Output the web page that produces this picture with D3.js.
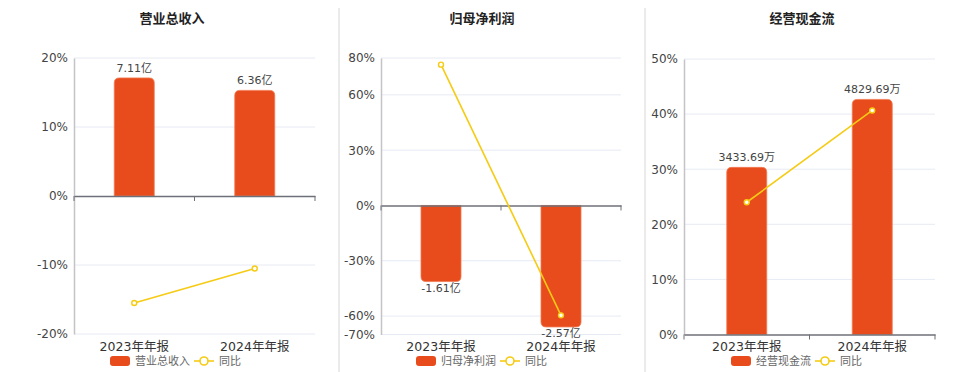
<!DOCTYPE html>
<html>
<head>
<meta charset="utf-8">
<script src="https://cdn.jsdelivr.net/npm/d3@7/dist/d3.min.js"></script>
<style>
  body { margin: 0; background: #fff; }
  svg { display: block; font-family: "DejaVu Sans", "Noto Sans CJK SC", sans-serif; }
</style>
</head>
<body>
<script>
/* Data */
var periods = ["2023年年报", "2024年年报"];

var revenue = [7.11, 6.36];          // 亿
var revenueYoy = [-15.5, -10.5];     // %
var revenueTicks = [20, 10, 0, -10, -20];

var profit = [-1.61, -2.57];         // 亿
var profitYoy = [76.4, -59.6];       // %
var profitTicks = [80, 60, 30, 0, -30, -60, -70];

var cashflow = [3433.69, 4829.69];   // 万
var cashflowYoy = [24.0, 40.66];     // %
var cashflowTicks = [50, 40, 30, 20, 10, 0];

var BAR = "#e84c1c", LINE = "#f5cb14";

var svg = d3.select("body").append("svg")
    .attr("width", 960)
    .attr("height", 372);

/* panel separators */
[339, 645].forEach(function(x) {
  svg.append("line").attr("x1", x).attr("x2", x).attr("y1", 8).attr("y2", 372)
      .attr("stroke", "#d6d6d6").attr("stroke-width", 1);
});

drawPanel({
  title: "营业总收入", titleX: 172, left: 74, right: 315, top: 58, bottom: 334,
  pctDomain: [-20, 20], ticks: revenueTicks,
  barDomain: [-8.31, 8.31], bars: revenue, yoy: revenueYoy, unit: "亿",
  legend: 110
});

drawPanel({
  title: "归母净利润", titleX: 482, left: 381, right: 621, top: 58, bottom: 334.5,
  pctDomain: [-70, 80], ticks: profitTicks,
  barDomain: [-2.73, 3.12], bars: profit, yoy: profitYoy, unit: "亿",
  legend: 416
});

drawPanel({
  title: "经营现金流", titleX: 802, left: 684, right: 935, top: 59, bottom: 334.5,
  pctDomain: [0, 50], ticks: cashflowTicks,
  barDomain: [0, 5660], bars: cashflow, yoy: cashflowYoy, unit: "万",
  legend: 731
});

function drawPanel(p) {
  var g = svg.append("g");

  g.append("text")
      .attr("x", p.titleX).attr("y", 23)
      .attr("text-anchor", "middle")
      .attr("font-size", 13).attr("font-weight", "bold")
      .attr("fill", "#222")
      .text(p.title);

  var x = d3.scaleBand().domain(periods).range([p.left, p.right]);
  var y = d3.scaleLinear().domain(p.pctDomain).range([p.bottom, p.top]);
  var yb = d3.scaleLinear().domain(p.barDomain).range([p.bottom, p.top]);
  var zero = y(0);

  // grid
  g.selectAll(".grid").data(p.ticks.filter(function(t) { return t !== 0; }))
    .enter().append("line")
      .attr("x1", p.left).attr("x2", p.right)
      .attr("y1", function(d) { return y(d); })
      .attr("y2", function(d) { return y(d); })
      .attr("stroke", "#e6eaf3").attr("stroke-width", 1);

  // y axis
  var ya = g.append("g")
      .attr("transform", "translate(" + p.left + ",0)")
      .call(d3.axisLeft(y).tickValues(p.ticks).tickSize(0).tickPadding(6)
        .tickFormat(function(d) { return d + "%"; }));
  ya.select(".domain").attr("stroke", "#c4c4c8").attr("stroke-width", 1.5);
  ya.selectAll("text").attr("font-size", 12).attr("fill", "#444")
      .attr("font-family", "DejaVu Sans");

  // bars
  var bw = 40, r = 5;
  g.selectAll(".bar").data(p.bars)
    .enter().append("path")
      .attr("fill", BAR)
      .attr("stroke", "#f27a52").attr("stroke-width", 0.8)
      .attr("d", function(d, i) {
        var x0 = x(periods[i]) + x.bandwidth() / 2 - bw / 2;
        var yv = yb(d);
        if (d >= 0) {
          return "M" + x0 + "," + zero + "V" + (yv + r) +
            "Q" + x0 + "," + yv + " " + (x0 + r) + "," + yv +
            "H" + (x0 + bw - r) +
            "Q" + (x0 + bw) + "," + yv + " " + (x0 + bw) + "," + (yv + r) +
            "V" + zero + "Z";
        }
        return "M" + x0 + "," + zero + "V" + (yv - r) +
          "Q" + x0 + "," + yv + " " + (x0 + r) + "," + yv +
          "H" + (x0 + bw - r) +
          "Q" + (x0 + bw) + "," + yv + " " + (x0 + bw) + "," + (yv - r) +
          "V" + zero + "Z";
      });

  // bar labels
  g.selectAll(".blabel").data(p.bars)
    .enter().append("text")
      .attr("x", function(d, i) { return x(periods[i]) + x.bandwidth() / 2; })
      .attr("y", function(d) { return d >= 0 ? yb(d) - 6 : yb(d) + 10; })
      .attr("text-anchor", "middle")
      .attr("font-size", 11).attr("fill", "#444")
      .text(function(d) { return d.toFixed(2) + p.unit; });

  // x axis at zero
  var xa = g.append("g")
      .attr("transform", "translate(0," + zero + ")")
      .call(d3.axisBottom(x).tickSize(0).tickFormat(""));
  xa.select(".domain").attr("stroke", "#6e7079").attr("stroke-width", 1.5);
  [p.left, (p.left + p.right) / 2, p.right].forEach(function(tx) {
    g.append("line").attr("x1", tx).attr("x2", tx)
        .attr("y1", zero).attr("y2", zero + 5)
        .attr("stroke", "#6e7079").attr("stroke-width", 1);
  });

  // category labels at bottom
  g.selectAll(".clabel").data(periods)
    .enter().append("text")
      .attr("x", function(d) { return x(d) + x.bandwidth() / 2; })
      .attr("y", 351)
      .attr("text-anchor", "middle")
      .attr("font-size", 12.5).attr("fill", "#333")
      .text(function(d) { return d; });

  // yoy line
  var line = d3.line()
      .x(function(d, i) { return x(periods[i]) + x.bandwidth() / 2; })
      .y(function(d) { return y(d); });
  g.append("path").datum(p.yoy)
      .attr("d", line)
      .attr("fill", "none").attr("stroke", LINE).attr("stroke-width", 1.6);
  g.selectAll(".pt").data(p.yoy)
    .enter().append("circle")
      .attr("cx", function(d, i) { return x(periods[i]) + x.bandwidth() / 2; })
      .attr("cy", function(d) { return y(d); })
      .attr("r", 2.5)
      .attr("fill", "#fff").attr("stroke", LINE).attr("stroke-width", 1.4);

  // legend
  var lx = p.legend, ly = 361;
  g.append("rect").attr("x", lx).attr("y", ly - 5).attr("width", 20).attr("height", 10)
      .attr("rx", 3).attr("fill", BAR);
  g.append("text").attr("x", lx + 25).attr("y", ly + 4)
      .attr("font-size", 11).attr("fill", "#666").text(p.title);
  var l2 = lx + 84;
  g.append("line").attr("x1", l2).attr("x2", l2 + 20).attr("y1", ly).attr("y2", ly)
      .attr("stroke", LINE).attr("stroke-width", 1.6);
  g.append("circle").attr("cx", l2 + 10).attr("cy", ly).attr("r", 4)
      .attr("fill", "#fff").attr("stroke", LINE).attr("stroke-width", 1.6);
  g.append("text").attr("x", l2 + 25).attr("y", ly + 4)
      .attr("font-size", 11).attr("fill", "#666").text("同比");
}
</script>
</body>
</html>
